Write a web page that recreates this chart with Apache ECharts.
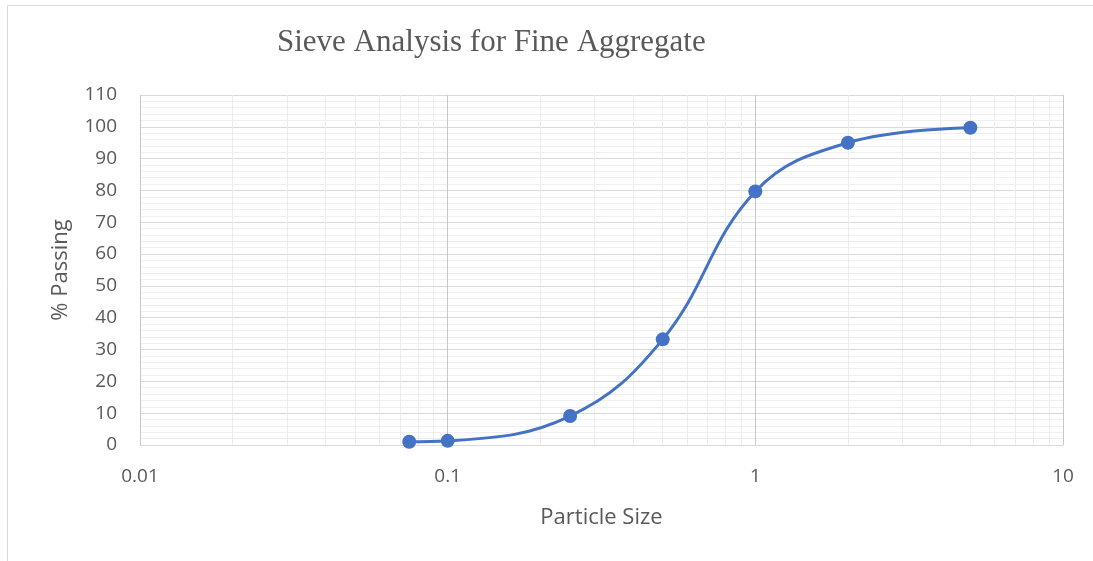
<!DOCTYPE html>
<html><head><meta charset="utf-8">
<script src="https://cdn.jsdelivr.net/npm/echarts@6/dist/echarts.min.js"></script>
<style>html,body{margin:0;padding:0;background:#fff}#c{width:1093px;height:561px}</style>
</head><body><div id="c"></div>
<script>
const particleSize = [0.075, 0.1, 0.25, 0.5, 1, 2, 5];
const percentPassing = [1.0, 1.3, 9.1, 33.2, 79.7, 95.0, 99.7];
const xTickLabels = ['0.01', '0.1', '1', '10'];

const minorX = [];
[0.01, 0.1, 1].forEach(d => { for (let k = 2; k <= 9; k++) minorX.push(+(d * k).toPrecision(3)); });

const chart = echarts.init(document.getElementById('c'));
const font = '"Open Sans", "Liberation Sans", Arial, sans-serif';
chart.setOption({
  animation: false,
  backgroundColor: '#fff',
  graphic: [{ type: 'rect', shape: { x: 7.5, y: 5.5, width: 1200, height: 700 }, style: { fill: 'none', stroke: '#d9d9d9', lineWidth: 1 }, silent: true }],
  title: { text: 'Sieve Analysis for Fine Aggregate', left: 272, top: 22,
    textStyle: { fontFamily: '"Liberation Serif", "Times New Roman", serif', fontWeight: 'normal', fontSize: 31, color: '#595959' } },
  grid: { left: 140, right: 30, top: 95, bottom: 116 },
  xAxis: {
    type: 'log', logBase: 10, min: 0.01, max: 10,
    name: 'Particle Size', nameLocation: 'middle', nameGap: 62,
    nameTextStyle: { fontFamily: font, fontSize: 22, color: '#595959' },
    axisLine: { show: true, lineStyle: { color: '#d9d9d9' } },
    axisTick: { show: false },
    axisLabel: { fontFamily: font, fontSize: 19, color: '#595959', margin: 22,
      formatter: v => { const s = xTickLabels.find(t => Math.abs(parseFloat(t) - v) < 1e-9 * Math.max(1, v)); return s || ''; } },
    splitLine: { show: true, lineStyle: { color: '#c8c8c8', width: 1 } }
  },
  yAxis: {
    type: 'value', min: 0, max: 110, interval: 10,
    name: '% Passing', nameLocation: 'middle', nameGap: 68, nameRotate: 90,
    nameTextStyle: { fontFamily: font, fontSize: 22, color: '#595959' },
    axisLine: { show: false }, axisTick: { show: false },
    axisLabel: { fontFamily: font, fontSize: 19, color: '#595959', margin: 23 },
    splitLine: { show: true, lineStyle: { color: '#d9d9d9', width: 1 } },
    minorTick: { show: false, splitNumber: 5 },
    minorSplitLine: { show: true, lineStyle: { color: '#efefef', width: 1 } }
  },
  series: [
    { type: 'line', data: [], silent: true,
      markLine: { silent: true, symbol: 'none', label: { show: false },
        lineStyle: { color: '#ececec', width: 1, type: 'solid' },
        data: minorX.map(v => ({ xAxis: v })) } },
    { type: 'line', data: particleSize.map((x, i) => [x, percentPassing[i]]),
      smooth: 0.4, symbol: 'circle', symbolSize: 14,
      lineStyle: { color: '#4472C4', width: 3 },
      itemStyle: { color: '#4472C4' }, z: 5 }
  ]
});
</script></body></html>
